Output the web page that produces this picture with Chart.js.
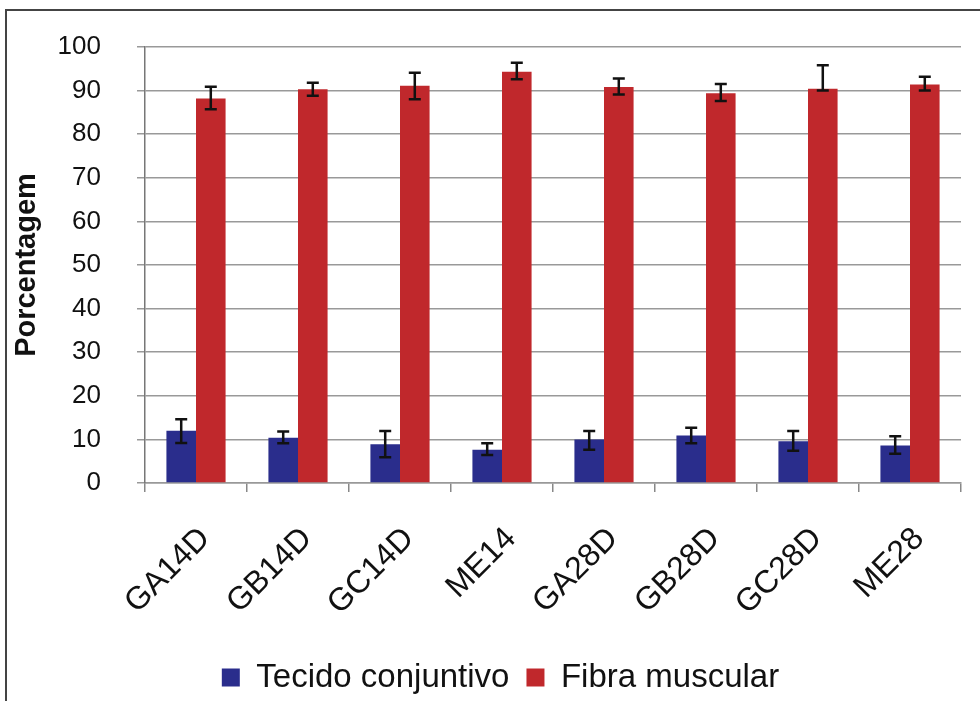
<!DOCTYPE html>
<html>
<head>
<meta charset="utf-8">
<script src="https://cdn.jsdelivr.net/npm/chart.js@4.4.1/dist/chart.umd.min.js"></script>
<style>
	html, body { margin:0; padding:0; background:#fff; overflow:hidden; }
	#wrap { position:relative; width:980px; height:701px; }
	#frame { position:absolute; left:5px; top:9px; width:1100px; height:1000px; border-left:2px solid #444; border-top:2px solid #444; }
	canvas { position:absolute; left:0; top:0; }
</style>
</head>
<body>
<div id="wrap">
	<div id="frame"></div>
	<canvas id="chart" width="980" height="701"></canvas>
</div>
<script>
// values
var categories = ["GA14D", "GB14D", "GC14D", "ME14", "GA28D", "GB28D", "GC28D", "ME28"];
var tecido     = [12.0, 10.4, 8.9, 7.6, 10.0, 10.9, 9.6, 8.6];
var tecidoUp   = [2.6, 1.4, 3.0, 1.5, 1.9, 1.8, 2.3, 2.1];
var tecidoDown = [2.8, 1.3, 3.0, 1.2, 2.4, 1.8, 2.2, 1.9];
var fibra      = [88.2, 90.3, 91.1, 94.3, 90.8, 89.4, 90.4, 91.4];
var fibraUp    = [2.7, 1.5, 3.0, 2.1, 2.0, 2.1, 5.4, 1.8];
var fibraDown  = [2.5, 1.5, 3.1, 1.7, 1.7, 1.8, 0.4, 1.4];

var FONT = "'Liberation Sans', Arial, sans-serif";

// error bars drawn over the bars, through the y scale
var errorBars = {
	id: "errorBars",
	afterDatasetsDraw: function(chart) {
		var ctx = chart.ctx;
		var y = chart.scales.y;
		chart.data.datasets.forEach(function(ds, di) {
			var meta = chart.getDatasetMeta(di);
			meta.data.forEach(function(bar, i) {
				var v = ds.data[i];
				var top = y.getPixelForValue(v + ds.errUp[i]);
				var bot = y.getPixelForValue(v - ds.errDown[i]);
				var x = bar.x;
				ctx.save();
				ctx.strokeStyle = "#111";
				ctx.lineWidth = 2.5;
				ctx.beginPath();
				ctx.moveTo(x, top); ctx.lineTo(x, bot);
				ctx.moveTo(x - 6, top); ctx.lineTo(x + 6, top);
				ctx.moveTo(x - 6, bot); ctx.lineTo(x + 6, bot);
				ctx.stroke();
				ctx.restore();
			});
		});
	}
};

// nudge the legend a bit right/down, like the original
var legendShift = {
	id: "legendShift",
	afterLayout: function(chart) {
		var lg = chart.legend;
		lg.left += 20; lg.right += 20;
		lg.top += 3; lg.bottom += 3;
	}
};

var ctx = document.getElementById("chart").getContext("2d");
new Chart(ctx, {
	type: "bar",
	data: {
		labels: categories,
		datasets: [
			{label: "Tecido conjuntivo", data: tecido, errUp: tecidoUp, errDown: tecidoDown,
			 backgroundColor: "#2a2d8c", borderWidth: 0},
			{label: "Fibra muscular", data: fibra, errUp: fibraUp, errDown: fibraDown,
			 backgroundColor: "#c0282c", borderWidth: 0}
		]
	},
	options: {
		responsive: false,
		animation: false,
		datasets: { bar: { categoryPercentage: 0.58, barPercentage: 1.0 } },
		layout: { padding: { top: 47, right: 19, bottom: 0, left: 0 } },
		plugins: {
			tooltip: { enabled: false },
			legend: {
				position: "bottom",
				labels: {
					font: { family: FONT, size: 33 },
					color: "#111",
					boxWidth: 18, boxHeight: 18,
					padding: 17
				}
			}
		},
		scales: {
			x: {
				grid: { display: true, drawOnChartArea: false, offset: true, tickLength: 9, color: "#888", lineWidth: 1.5 },
				border: { color: "#999", width: 1.5 },
				ticks: { font: { family: FONT, size: 32 }, color: "#111", maxRotation: 45, minRotation: 45, padding: 28, labelOffset: 9 },
				afterFit: function(s) { s.height = 158; }
			},
			y: {
				min: 0, max: 100,
				ticks: { stepSize: 10, font: { family: FONT, size: 26 }, color: "#111", padding: 36 },
				grid: { color: "#999", lineWidth: 1.5, tickLength: 8 },
				border: { color: "#777", width: 1.5 },
				title: { display: true, text: "Porcentagem", font: { family: FONT, size: 29, weight: "bold" }, color: "#111", padding: { top: 10, bottom: 0 } },
				afterFit: function(s) { s.width = 145; s.paddingTop = 0; s.paddingBottom = 0; }
			}
		}
	},
	plugins: [errorBars, legendShift]
});
</script>
</body>
</html>
